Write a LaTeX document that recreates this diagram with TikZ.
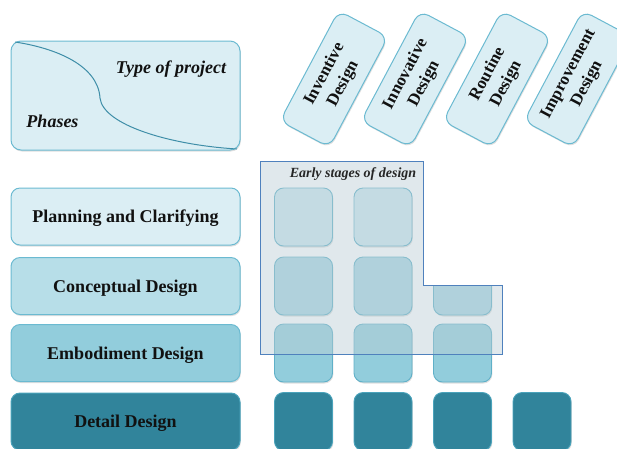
\documentclass[tikz,border=0pt]{standalone}
\usepackage{fontspec}
\setmainfont{Liberation Serif}
\usetikzlibrary{shadows}
\definecolor{bord}{HTML}{6BBAD1}
\definecolor{cellb}{HTML}{5FB0C8}
\definecolor{cA}{HTML}{DBEEF4}
\definecolor{cAc}{HTML}{CDE8EF}
\definecolor{cB}{HTML}{B7DEE8}
\definecolor{cBc}{HTML}{A8D6E2}
\definecolor{cC}{HTML}{92CDDC}
\definecolor{cD}{HTML}{31849B}
\definecolor{cDb}{HTML}{4AA3BB}
\definecolor{ovl}{HTML}{BACDD5}
\definecolor{ovlb}{HTML}{4F81BD}
\definecolor{txt}{HTML}{111111}
\definecolor{curv}{HTML}{3F8EA8}
\begin{document}
\begin{tikzpicture}[x=1pt,y=-1pt,
  shade/.style={drop shadow={shadow xshift=0.8pt,shadow yshift=-1.5pt,opacity=0.25}},
  phase/.style={shade,draw=bord,line width=1pt,rounded corners=9pt,minimum width=229pt,minimum height=57pt,inner sep=0pt,font=\fontsize{18}{20}\selectfont\bfseries,text=txt,text height=12.5pt,text depth=0.5pt},
  cell/.style={shade,draw=cellb,line width=0.9pt,rounded corners=9pt,minimum width=58pt,minimum height=58pt,inner sep=0pt},
  dbox/.style={shade,draw=bord,fill=cA,line width=1pt,rounded corners=10pt,minimum width=125pt,minimum height=56pt,inner sep=0pt,align=center,font=\fontsize{17}{21}\selectfont\bfseries,text=txt,rotate=62},
  lbl/.style={font=\fontsize{18}{20}\selectfont\bfseries\itshape,text=txt,inner sep=0pt,text height=12.5pt,text depth=0.5pt}]
\useasboundingbox (0,0) rectangle (617,448);
\clip (0,0) rectangle (617,448);
% header box
\node[phase,fill=cA,minimum height=109pt,rounded corners=10pt] (tb) at (125.5,95.5) {};
\draw[curv,line width=1pt] (15,42) .. controls (55,48) and (98,65) .. (100,98) .. controls (103,125) and (170,145) .. (237,149);
\node[lbl] (top) at (171,67) {Type of project};
\node[lbl] (ph) at (52.5,121) {Phases};
% project type boxes
\node[dbox] (inv) at (334,79) {Inventive\\Design};
\node[dbox] (inn) at (415,79) {Innovative\\Design};
\node[dbox] (rou) at (497,79) {Routine\\Design};
\node[dbox] (imp) at (578,79) {Improvement\\Design};
% phases
\node[phase,fill=cA] (p1) at (125.5,216.5) {Planning and Clarifying};
\node[phase,fill=cB] (p2) at (125.5,286) {Conceptual Design};
\node[phase,fill=cC] (p3) at (125.5,353) {Embodiment Design};
\node[phase,fill=cD,draw=cDb] (p4) at (125.5,421.5) {Detail Design};
% cells
\node[cell,fill=cAc] (c11) at (303.5,217) {};
\node[cell,fill=cAc] (c12) at (383,217) {};
\node[cell,fill=cBc] (c21) at (303.5,286) {};
\node[cell,fill=cBc] (c22) at (383,286) {};
\begin{scope}
\clip (425,285) rectangle (505,330);
\node[cell,fill=cBc] (c23) at (462.5,286) {};
\end{scope}
\node[cell,fill=cC] (c31) at (303.5,353) {};
\node[cell,fill=cC] (c32) at (383,353) {};
\node[cell,fill=cC] (c33) at (462.5,353) {};
\node[cell,fill=cD,draw=cDb] (c41) at (303.5,421.5) {};
\node[cell,fill=cD,draw=cDb] (c42) at (383,421.5) {};
\node[cell,fill=cD,draw=cDb] (c43) at (462.5,421.5) {};
\node[cell,fill=cD,draw=cDb] (c44) at (542,421.5) {};
% early stages overlay
\draw[draw=ovlb,line width=0.8pt,fill=ovl,fill opacity=0.45] (260,161) -- (423,161) -- (423,285) -- (502,285) -- (502,354) -- (260,354) -- cycle;
\node[font=\fontsize{14}{16}\selectfont\bfseries\itshape,text=black!85,inner sep=0pt,text height=9.5pt,text depth=0.5pt] (early) at (353,173) {Early stages of design};
\end{tikzpicture}
\end{document}
